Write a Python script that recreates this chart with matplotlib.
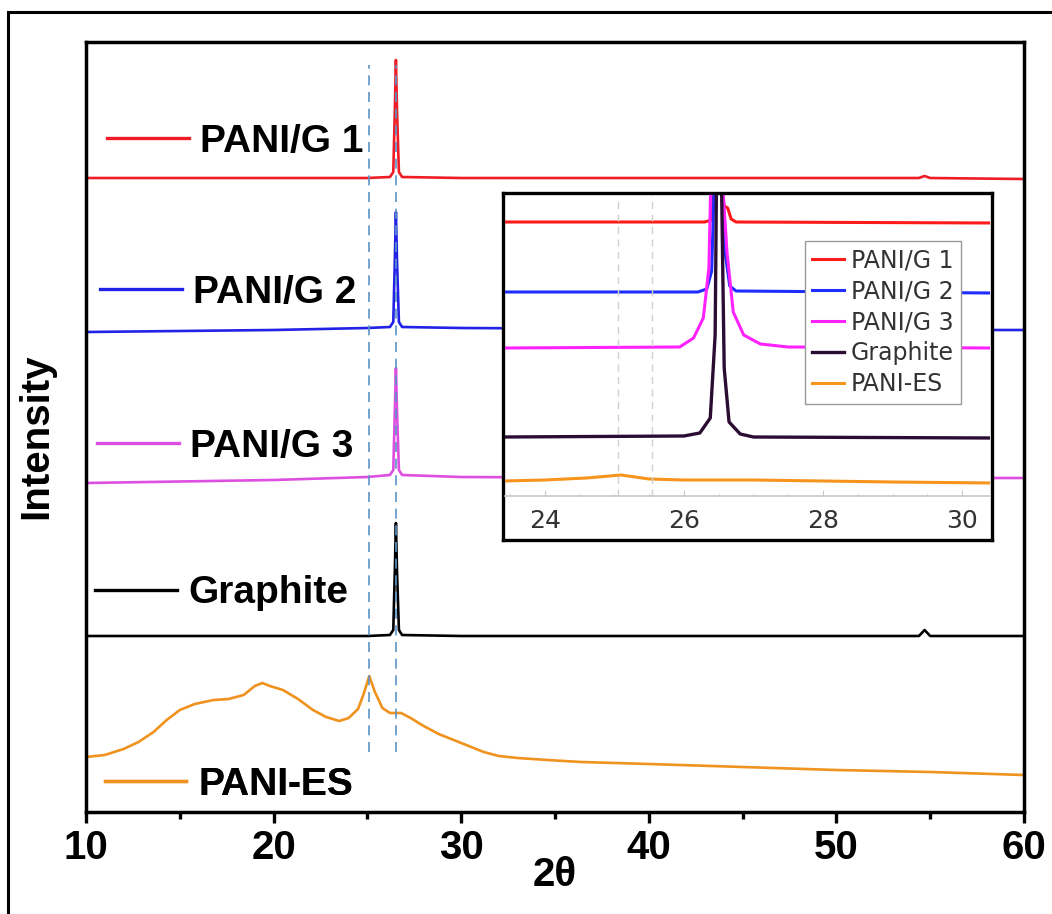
import matplotlib
matplotlib.use("Agg")
import matplotlib.pyplot as plt
from matplotlib.lines import Line2D
from matplotlib.patches import Rectangle
from matplotlib.ticker import MultipleLocator

# main panel: 2theta grid shared by the sharp-peak samples
sharp_x = [10, 20, 25, 26.2, 26.38, 26.46, 26.52, 26.58, 26.68, 26.85, 30, 40, 54.4, 54.7, 55.0, 60]
pani_g1_y = [634, 634, 634, 635, 640, 700, 752, 700, 640, 635, 634, 634, 634, 636, 634, 633]
pani_g2_y = [480, 482, 484, 485, 490, 550, 600, 550, 490, 485, 484, 483, 482, 482, 482, 482]
pani_g3_y = [329, 332, 335, 337, 342, 400, 444, 400, 342, 337, 335, 334, 334, 334, 334, 334]
graphite_y = [176, 176, 176, 177, 182, 240, 289, 240, 182, 177, 176, 176, 176, 182, 176, 176]

pani_es_x = [10, 10.5, 11, 12, 12.8, 13.6, 14.3, 15, 15.8, 16.8, 17.6, 18.4, 19.0, 19.4, 19.8,
             20.5, 21.3, 22.1, 22.8, 23.5, 24.0, 24.5, 24.8, 25.1, 25.4, 25.8, 26.2, 26.8,
             27.3, 28.0, 28.8, 29.6, 30.4, 31.2, 32.0, 33, 34.6, 36.4, 40, 45, 50, 55, 60]
pani_es_y = [55, 56, 57, 63, 70, 80, 92, 102, 108, 112, 113, 117, 126, 129, 126,
             122, 113, 102, 95, 91, 94, 103, 118, 136, 120, 104, 99, 99,
             94, 86, 78, 72, 66, 60, 56, 54, 52, 50, 48, 45, 42, 40, 37]

ref_lines = [25.1, 26.5]

# inset (zoom around the graphite peak)
ins_g1_x = [23.4, 26.3, 26.4, 26.44, 26.52, 26.58, 26.63, 26.68, 26.75, 30.43]
ins_g1_y = [274, 274, 276, 320, 320, 290, 288, 277, 274, 273]
ins_g2_x = [23.4, 26.2, 26.33, 26.4, 26.44, 26.55, 26.6, 26.66, 26.75, 30.43]
ins_g2_y = [204, 204, 207, 225, 320, 320, 240, 210, 205, 203]
ins_g3_x = [23.4, 25.94, 26.14, 26.28, 26.36, 26.39, 26.55, 26.62, 26.71, 26.86, 27.1, 27.5, 30.43]
ins_g3_y = [148, 149, 158, 178, 228, 320, 320, 244, 184, 161, 152, 149, 148]
ins_gr_x = [23.4, 26.0, 26.23, 26.38, 26.45, 26.47, 26.54, 26.58, 26.65, 26.81, 27.0, 30.43]
ins_gr_y = [59, 60, 63, 78, 161, 320, 320, 128, 74, 62, 59, 58]
ins_es_x = [23.4, 24.0, 24.6, 25.1, 25.5, 26.0, 27.0, 28.0, 29.0, 30.43]
ins_es_y = [15, 16, 18, 21, 17, 16, 16, 15, 14, 13]
ins_ref_lines = [25.06, 25.54]
ins_ticks = [24, 26, 28, 30]

labels = ['PANI/G 1', 'PANI/G 2', 'PANI/G 3', 'Graphite', 'PANI-ES']
main_colors = ['#ee1c24', '#2222e6', '#dd4fe0', '#000000', '#f0921e']
ins_colors = ['#ff1a1a', '#1f2cff', '#ff22ff', '#2b0c33', '#f7941d']

bold = dict(family=['Liberation Sans', 'DejaVu Sans'], weight='bold', size=28)

fig = plt.figure(figsize=(10.52, 9.14), dpi=100)
fig.patch.set_facecolor('white')

# outer border around the picture
fig.patches.append(Rectangle((8 / 1052, -0.05), 1.1, 0.05 + 902 / 914, transform=fig.transFigure,
                             fill=False, edgecolor='black', linewidth=2.2, clip_on=False))

ax = fig.add_axes([86 / 1052, 1 - 812 / 914, 938 / 1052, 770 / 914])
ax.plot(sharp_x, pani_g1_y, color=main_colors[0], lw=1.9)
ax.plot(sharp_x, pani_g2_y, color=main_colors[1], lw=1.9)
ax.plot(sharp_x, pani_g3_y, color=main_colors[2], lw=1.9)
ax.plot(sharp_x, graphite_y, color=main_colors[3], lw=1.9)
ax.plot(pani_es_x, pani_es_y, color=main_colors[4], lw=1.9)
ax.vlines(ref_lines, 60, 747, colors='#5b93c7', linestyles=(0, (6, 4)), lw=1.2)

ax.set_xlim(10, 60)
ax.set_ylim(0, 770)
ax.set_yticks([])
ax.xaxis.set_major_locator(MultipleLocator(10))
ax.xaxis.set_minor_locator(MultipleLocator(5))
ax.tick_params(axis='x', which='major', direction='out', length=8, width=2.4, pad=4,
               labelsize=29)
ax.tick_params(axis='x', which='minor', direction='out', length=5, width=2.4)
for lab in ax.get_xticklabels():
    lab.set_fontfamily(['Liberation Sans', 'DejaVu Sans'])
    lab.set_fontweight('bold')
for sp in ax.spines.values():
    sp.set_linewidth(2.5)
ax.set_xlabel('2θ', fontdict=bold, fontsize=29, labelpad=-8)
ax.set_ylabel('Intensity', fontdict=bold, fontsize=29)
ax.yaxis.set_label_coords(-0.033, 0.488)

# in-plot labels, one small legend per curve
label_pos = [(0.0224, 0.870), (0.0149, 0.674), (0.0117, 0.474), (0.0096, 0.284), (0.020, 0.035)]
for i, (lbl, col, pos) in enumerate(zip(labels, main_colors, label_pos)):
    leg = ax.legend(handles=[Line2D([], [], color=col, lw=2.4)], labels=[lbl],
                    loc='center left', bbox_to_anchor=pos, frameon=False, prop=bold,
                    handlelength=2.1, handletextpad=0.3, borderpad=0, borderaxespad=0)
    for t in leg.get_texts():
        t.set_color('black')
    ax.add_artist(leg)

# inset frame and plot
frame = fig.add_axes([503 / 1052, 1 - 540 / 914, 489 / 1052, 347 / 914])
frame.set_xticks([])
frame.set_yticks([])
frame.set_facecolor('white')
for sp in frame.spines.values():
    sp.set_linewidth(2.4)

ins = fig.add_axes([505 / 1052, 1 - 496 / 914, 485 / 1052, 301 / 914])
ins.set_facecolor('none')
ins.plot(ins_g1_x, ins_g1_y, color=ins_colors[0], lw=2.2, label=labels[0])
ins.plot(ins_g2_x, ins_g2_y, color=ins_colors[1], lw=2.2, label=labels[1])
ins.plot(ins_g3_x, ins_g3_y, color=ins_colors[2], lw=2.2, label=labels[2])
ins.plot(ins_gr_x, ins_gr_y, color=ins_colors[3], lw=2.4, label=labels[3])
ins.plot(ins_es_x, ins_es_y, color=ins_colors[4], lw=2.2, label=labels[4])
ins.vlines(ins_ref_lines, 0, 301, colors='#d0d0d0', linestyles=(0, (5, 4)), lw=1)
ins.set_xlim(23.43, 30.40)
ins.set_ylim(0, 301)
ins.set_yticks([])
ins.set_xticks(ins_ticks)
ins.xaxis.set_minor_locator(MultipleLocator(0.5))
ins.tick_params(axis='x', which='major', direction='in', length=4, color='#c8c8c8',
                labelcolor='#333333', labelsize=18, pad=9)
ins.tick_params(axis='x', which='minor', direction='in', length=2, color='#dddddd')
for s in ['top', 'left', 'right']:
    ins.spines[s].set_visible(False)
ins.spines['bottom'].set_color('#c8c8c8')
ins.spines['bottom'].set_linewidth(1.2)

leg = ins.legend(loc='upper left', bbox_to_anchor=(805 / 1052, 1 - 241 / 914),
                 bbox_transform=fig.transFigure, borderaxespad=0, fontsize=17,
                 handlelength=1.35, handletextpad=0.3, labelspacing=0.3, borderpad=0.3,
                 fancybox=False, framealpha=1, edgecolor='#999999')
leg.get_frame().set_linewidth(1)
for t in leg.get_texts():
    t.set_color('#333333')

fig.savefig('out.png', dpi=100, facecolor='white')
